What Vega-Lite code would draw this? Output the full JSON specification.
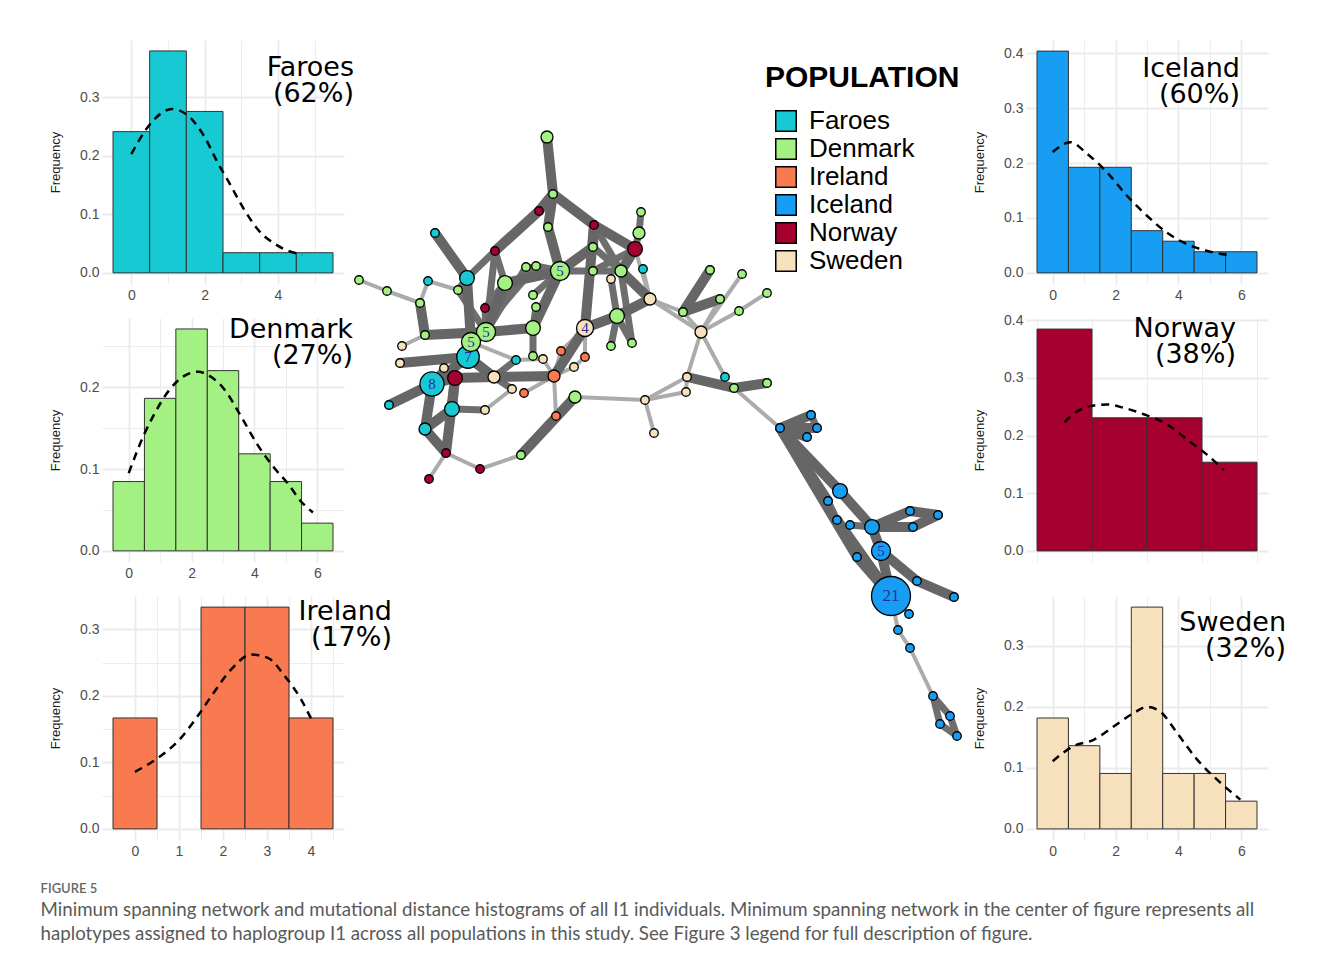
{
"$schema": "https://vega.github.io/schema/vega-lite/v6.json",
"padding": {"left": 40, "top": 40, "right": 5, "bottom": 5},
"background": "white",
"datasets": {
"nodes": [
{"id":"c15","pop":"Iceland","n":21,"x":893,"y":596},
{"id":"a43","pop":"Faroes","n":8,"x":434,"y":384},
{"id":"a34","pop":"Faroes","n":7,"x":470,"y":357},
{"id":"a32","pop":"Denmark","n":5,"x":488,"y":332},
{"id":"a33","pop":"Denmark","n":5,"x":473,"y":342},
{"id":"a12","pop":"Denmark","n":5,"x":562,"y":271},
{"id":"c13","pop":"Iceland","n":5,"x":883,"y":551},
{"id":"a36","pop":"Sweden","n":4,"x":587,"y":328},
{"id":"a1","pop":"Denmark","n":2,"x":549,"y":137},
{"id":"a2","pop":"Denmark","n":1,"x":555,"y":194},
{"id":"a3","pop":"Norway","n":1,"x":541,"y":211},
{"id":"a4","pop":"Denmark","n":1,"x":550,"y":227},
{"id":"a5","pop":"Norway","n":1,"x":596,"y":225},
{"id":"a6","pop":"Denmark","n":1,"x":643,"y":212},
{"id":"a7","pop":"Denmark","n":2,"x":641,"y":233},
{"id":"a8","pop":"Norway","n":3,"x":637,"y":249},
{"id":"a9","pop":"Faroes","n":1,"x":645,"y":269},
{"id":"a10","pop":"Denmark","n":1,"x":595,"y":247},
{"id":"a11","pop":"Denmark","n":1,"x":595,"y":271},
{"id":"a14","pop":"Denmark","n":1,"x":528,"y":267},
{"id":"a15","pop":"Denmark","n":1,"x":538,"y":266},
{"id":"a16","pop":"Denmark","n":2,"x":623,"y":271},
{"id":"a17","pop":"Sweden","n":1,"x":613,"y":279},
{"id":"a18","pop":"Sweden","n":2,"x":652,"y":299},
{"id":"a19","pop":"Faroes","n":1,"x":437,"y":233},
{"id":"a20","pop":"Norway","n":1,"x":497,"y":251},
{"id":"a21","pop":"Faroes","n":3,"x":469,"y":278},
{"id":"a22","pop":"Denmark","n":3,"x":507,"y":283},
{"id":"a23","pop":"Faroes","n":1,"x":430,"y":281},
{"id":"a24","pop":"Denmark","n":1,"x":460,"y":290},
{"id":"a25","pop":"Denmark","n":1,"x":361,"y":280},
{"id":"a26","pop":"Denmark","n":1,"x":389,"y":291},
{"id":"a27","pop":"Denmark","n":1,"x":422,"y":303},
{"id":"a28","pop":"Denmark","n":1,"x":535,"y":295},
{"id":"a29","pop":"Denmark","n":1,"x":538,"y":307},
{"id":"a30","pop":"Norway","n":1,"x":487,"y":308},
{"id":"a31","pop":"Denmark","n":1,"x":427,"y":335},
{"id":"a35","pop":"Denmark","n":3,"x":535,"y":328},
{"id":"a37","pop":"Denmark","n":3,"x":619,"y":316},
{"id":"a38","pop":"Denmark","n":1,"x":613,"y":346},
{"id":"a39","pop":"Denmark","n":1,"x":634,"y":343},
{"id":"a40","pop":"Sweden","n":1,"x":404,"y":346},
{"id":"a41","pop":"Sweden","n":1,"x":402,"y":363},
{"id":"a42","pop":"Sweden","n":1,"x":446,"y":368},
{"id":"a44","pop":"Norway","n":3,"x":457,"y":378},
{"id":"a45","pop":"Sweden","n":2,"x":496,"y":377},
{"id":"a46","pop":"Faroes","n":1,"x":518,"y":360},
{"id":"a47","pop":"Denmark","n":1,"x":535,"y":356},
{"id":"a48","pop":"Sweden","n":1,"x":545,"y":359},
{"id":"a49","pop":"Ireland","n":1,"x":563,"y":351},
{"id":"a50","pop":"Ireland","n":1,"x":587,"y":357},
{"id":"a51","pop":"Sweden","n":1,"x":576,"y":367},
{"id":"a52","pop":"Ireland","n":2,"x":556,"y":376},
{"id":"a53","pop":"Sweden","n":1,"x":514,"y":389},
{"id":"a54","pop":"Ireland","n":1,"x":526,"y":393},
{"id":"a55","pop":"Denmark","n":2,"x":577,"y":397},
{"id":"a56","pop":"Faroes","n":1,"x":391,"y":405},
{"id":"a57","pop":"Faroes","n":3,"x":454,"y":409},
{"id":"a58","pop":"Sweden","n":1,"x":487,"y":410},
{"id":"a59","pop":"Faroes","n":2,"x":427,"y":429},
{"id":"a60","pop":"Ireland","n":1,"x":558,"y":416},
{"id":"a61","pop":"Sweden","n":1,"x":647,"y":400},
{"id":"a62","pop":"Sweden","n":1,"x":656,"y":433},
{"id":"a63","pop":"Norway","n":1,"x":448,"y":453},
{"id":"a64","pop":"Denmark","n":1,"x":523,"y":455},
{"id":"a65","pop":"Norway","n":1,"x":482,"y":469},
{"id":"a66","pop":"Norway","n":1,"x":431,"y":479},
{"id":"b1","pop":"Denmark","n":1,"x":712,"y":270},
{"id":"b2","pop":"Denmark","n":1,"x":744,"y":274},
{"id":"b3","pop":"Denmark","n":1,"x":769,"y":293},
{"id":"b4","pop":"Denmark","n":1,"x":722,"y":299},
{"id":"b5","pop":"Denmark","n":1,"x":741,"y":311},
{"id":"b6","pop":"Denmark","n":1,"x":685,"y":312},
{"id":"b7","pop":"Sweden","n":2,"x":703,"y":332},
{"id":"b8","pop":"Sweden","n":1,"x":689,"y":377},
{"id":"b9","pop":"Sweden","n":1,"x":688,"y":392},
{"id":"b10","pop":"Faroes","n":1,"x":727,"y":377},
{"id":"b11","pop":"Denmark","n":1,"x":736,"y":388},
{"id":"b12","pop":"Denmark","n":1,"x":769,"y":383},
{"id":"c1","pop":"Iceland","n":1,"x":782,"y":428},
{"id":"c2","pop":"Iceland","n":1,"x":813,"y":415},
{"id":"c3","pop":"Iceland","n":1,"x":819,"y":428},
{"id":"c4","pop":"Iceland","n":1,"x":809,"y":437},
{"id":"c5","pop":"Iceland","n":3,"x":842,"y":491},
{"id":"c6","pop":"Iceland","n":1,"x":830,"y":501},
{"id":"c7","pop":"Iceland","n":1,"x":839,"y":520},
{"id":"c8","pop":"Iceland","n":1,"x":852,"y":525},
{"id":"c9","pop":"Iceland","n":3,"x":874,"y":527},
{"id":"c10","pop":"Iceland","n":1,"x":912,"y":511},
{"id":"c11","pop":"Iceland","n":1,"x":940,"y":515},
{"id":"c12","pop":"Iceland","n":1,"x":915,"y":527},
{"id":"c14","pop":"Iceland","n":1,"x":859,"y":557},
{"id":"c16","pop":"Iceland","n":1,"x":919,"y":581},
{"id":"c17","pop":"Iceland","n":1,"x":956,"y":597},
{"id":"c18","pop":"Iceland","n":1,"x":911,"y":614},
{"id":"c19","pop":"Iceland","n":1,"x":900,"y":630},
{"id":"c20","pop":"Iceland","n":1,"x":912,"y":648},
{"id":"c21","pop":"Iceland","n":1,"x":935,"y":696},
{"id":"c22","pop":"Iceland","n":1,"x":952,"y":716},
{"id":"c23","pop":"Iceland","n":1,"x":942,"y":724},
{"id":"c24","pop":"Iceland","n":1,"x":959,"y":736}
],
"edges": [
{"s":"a8","t":"a18","k":1},{"s":"a9","t":"a18","k":1},{"s":"a26","t":"a27","k":1},{"s":"a25","t":"a26","k":1},
{"s":"a23","t":"a24","k":1},{"s":"a40","t":"a31","k":1},{"s":"a63","t":"a65","k":1},{"s":"a63","t":"a66","k":1},
{"s":"a65","t":"a64","k":1},{"s":"a55","t":"a60","k":1},{"s":"a55","t":"a61","k":1},{"s":"a52","t":"a49","k":1},
{"s":"a52","t":"a51","k":1},{"s":"a52","t":"a54","k":1},{"s":"a52","t":"a60","k":1},{"s":"a58","t":"a53","k":1},
{"s":"a47","t":"a48","k":1},{"s":"a48","t":"a52","k":1},{"s":"a49","t":"a36","k":1},{"s":"a50","t":"a51","k":1},
{"s":"a36","t":"a50","k":1},{"s":"a33","t":"a46","k":1},{"s":"a46","t":"a48","k":1},{"s":"a23","t":"a27","k":1},
{"s":"a18","t":"b7","k":1},{"s":"a18","t":"b6","k":1},{"s":"b6","t":"b7","k":1},{"s":"b7","t":"b4","k":1},
{"s":"b7","t":"b2","k":1},{"s":"b7","t":"b5","k":1},{"s":"b5","t":"b3","k":1},{"s":"b7","t":"b8","k":1},
{"s":"b7","t":"b10","k":1},{"s":"b8","t":"b9","k":1},{"s":"b8","t":"a61","k":1},{"s":"b9","t":"a61","k":1},
{"s":"a61","t":"a62","k":1},{"s":"b11","t":"c1","k":1},{"s":"c15","t":"c18","k":1},{"s":"c15","t":"c19","k":1},
{"s":"c19","t":"c20","k":1},{"s":"c20","t":"c21","k":1},
{"s":"a20","t":"a21","k":2},{"s":"a21","t":"a24","k":2},{"s":"a20","t":"a32","k":2},{"s":"a12","t":"a14","k":2},
{"s":"a12","t":"a15","k":2},{"s":"a12","t":"a11","k":2},{"s":"a10","t":"a16","k":2},{"s":"a11","t":"a16","k":2},
{"s":"a8","t":"a7","k":2},{"s":"a7","t":"a6","k":2},{"s":"a17","t":"a37","k":2},{"s":"a37","t":"a38","k":2},
{"s":"a37","t":"a39","k":2},{"s":"a16","t":"a39","k":2},{"s":"a35","t":"a47","k":2},{"s":"a15","t":"a33","k":2},
{"s":"a14","t":"a32","k":2},{"s":"a30","t":"a32","k":2},{"s":"a30","t":"a22","k":2},{"s":"a24","t":"a32","k":2},
{"s":"a42","t":"a43","k":2},{"s":"a57","t":"a58","k":2},{"s":"a45","t":"a46","k":2},{"s":"a53","t":"a45","k":2},
{"s":"a22","t":"a20","k":2},{"s":"a8","t":"a11","k":2},{"s":"a5","t":"a16","k":2},{"s":"a28","t":"a12","k":2},
{"s":"a29","t":"a35","k":2},{"s":"c2","t":"c3","k":2},{"s":"c6","t":"c7","k":2},{"s":"c8","t":"c9","k":2},
{"s":"c21","t":"c22","k":2},{"s":"c21","t":"c23","k":2},{"s":"c22","t":"c24","k":2},{"s":"c23","t":"c24","k":2},
{"s":"a1","t":"a2","k":3},{"s":"a2","t":"a3","k":3},{"s":"a2","t":"a4","k":3},{"s":"a2","t":"a5","k":3},
{"s":"a5","t":"a8","k":3},{"s":"a3","t":"a20","k":3},{"s":"a19","t":"a21","k":3},{"s":"a21","t":"a33","k":3},
{"s":"a22","t":"a32","k":3},{"s":"a22","t":"a12","k":3},{"s":"a12","t":"a10","k":3},{"s":"a12","t":"a35","k":3},
{"s":"a12","t":"a4","k":3},{"s":"a10","t":"a5","k":3},{"s":"a16","t":"a8","k":3},{"s":"a16","t":"a18","k":3},
{"s":"a18","t":"a37","k":3},{"s":"a37","t":"a36","k":3},{"s":"a36","t":"a5","k":3},{"s":"a36","t":"a52","k":3},
{"s":"a35","t":"a32","k":3},{"s":"a32","t":"a33","k":3},{"s":"a33","t":"a34","k":3},{"s":"a27","t":"a31","k":3},
{"s":"a31","t":"a32","k":3},{"s":"a34","t":"a41","k":3},{"s":"a34","t":"a43","k":3},{"s":"a34","t":"a45","k":3},
{"s":"a43","t":"a56","k":3},{"s":"a43","t":"a59","k":3},{"s":"a43","t":"a44","k":3},{"s":"a44","t":"a57","k":3},
{"s":"a44","t":"a63","k":3},{"s":"a57","t":"a59","k":3},{"s":"a59","t":"a63","k":3},{"s":"a64","t":"a55","k":3},
{"s":"a45","t":"a52","k":3},{"s":"a44","t":"a45","k":3},{"s":"b6","t":"b1","k":3},{"s":"b6","t":"b4","k":3},
{"s":"b8","t":"b11","k":3},{"s":"b11","t":"b12","k":3},{"s":"c1","t":"c2","k":3},{"s":"c1","t":"c3","k":3},
{"s":"c1","t":"c4","k":3},{"s":"c1","t":"c5","k":3},{"s":"c5","t":"c9","k":3},{"s":"c1","t":"c14","k":3},
{"s":"c1","t":"c6","k":3},{"s":"c7","t":"c15","k":3},{"s":"c14","t":"c15","k":3},{"s":"c9","t":"c10","k":3},
{"s":"c9","t":"c12","k":3},{"s":"c10","t":"c11","k":3},{"s":"c12","t":"c11","k":3},{"s":"c9","t":"c13","k":3},
{"s":"c13","t":"c15","k":3},{"s":"c13","t":"c16","k":3},{"s":"c16","t":"c17","k":3}
]
},
"title": {
"text": "FIGURE 5",
"subtitle": ["Minimum spanning network and mutational distance histograms of all I1 individuals. Minimum spanning network in the center of figure represents all", "haplotypes assigned to haplogroup I1 across all populations in this study. See Figure 3 legend for full description of figure."],
"orient": "bottom", "anchor": "start", "frame": "bounds", "offset": 25, "dx": -9,
"font": "Lato", "fontSize": 13, "fontWeight": 600, "color": "#666666", "lineHeight": 14,
"subtitleFont": "Lato", "subtitleFontSize": 18.7, "subtitleColor": "#595959", "subtitleLineHeight": 24, "subtitlePadding": 5
},
"columns": 3,
"spacing": {"row": 34, "column": 0},
"bounds": "flush",
"concat": [
{
"width": 242, "height": 244,
"layer": [
{"data": {"values": [{"x":-0.5,"x2":0.5,"f":0.2414},{"x":0.5,"x2":1.5,"f":0.3793},{"x":1.5,"x2":2.5,"f":0.2759},{"x":2.5,"x2":3.5,"f":0.0345},{"x":3.5,"x2":4.5,"f":0.0345},{"x":4.5,"x2":5.5,"f":0.0345}]},
"mark": {"type": "rect", "fill": "#17C9D3", "stroke": "#333333", "strokeWidth": 1},
"encoding": {
"x": {"field": "x", "type": "quantitative", "scale": {"domain": [-0.8, 5.8], "nice": false, "zero": false},
"axis": {"title": null, "labelOverlap": false, "values": [0,1,2,3,4,5], "labelExpr": "datum.value % 2 === 0 ? datum.label : ''", "gridWidth": {"condition": {"test": "datum.value % 2 === 0", "value": 1.8}, "value": 0.9}}},
"y": {"field": "f", "type": "quantitative", "scale": {"domain": [-0.019, 0.398], "nice": false, "zero": false},
"axis": {"title": "Frequency", "labelOverlap": false, "values": [0,0.05,0.1,0.15,0.2,0.25,0.3,0.35], "format": ".1f", "labelExpr": "round(datum.value*100) % 10 === 0 ? datum.label : ''", "gridWidth": {"condition": {"test": "round(datum.value*100) % 10 === 0", "value": 1.8}, "value": 0.9}}},
"x2": {"field": "x2"}, "y2": {"datum": 0}}},
{"data": {"values": [{"x":0,"f":0.203},{"x":0.4,"f":0.245},{"x":0.8,"f":0.272},{"x":1.1,"f":0.28},{"x":1.5,"f":0.271},{"x":2.0,"f":0.232},{"x":2.35,"f":0.189},{"x":2.66,"f":0.155},{"x":3.07,"f":0.109},{"x":3.44,"f":0.075},{"x":3.98,"f":0.047},{"x":4.66,"f":0.031}]},
"mark": {"type": "line", "stroke": "black", "strokeWidth": 2.5, "strokeDash": [8, 6], "interpolate": "monotone"},
"encoding": {"x": {"field": "x", "type": "quantitative", "scale": {"domain": [-0.8, 5.8], "nice": false, "zero": false}}, "y": {"field": "f", "type": "quantitative", "scale": {"domain": [-0.019, 0.398], "nice": false, "zero": false}}}},
{"data": {"values": [{"label": "Faroes"}]},
"mark": {"type": "text", "text": ["Faroes", "(62%)"], "font": "DejaVu Sans", "fontSize": 27, "lineHeight": 26, "align": "right", "baseline": "top", "fill": "black", "dx": 10, "dy": 15},
"encoding": {"x": {"datum": 5.8, "type": "quantitative", "scale": {"domain": [-0.8, 5.8], "nice": false, "zero": false}}, "y": {"datum": 0.398, "type": "quantitative", "scale": {"domain": [-0.019, 0.398], "nice": false, "zero": false}}}}
]
},
{
"width": 682, "height": 244,
"layer": [
{"data": {"name": "edges"},
"transform": [
{"lookup": "s", "from": {"data": {"name": "nodes"}, "key": "id", "fields": ["x", "y"]}, "as": ["sx", "sy"]},
{"lookup": "t", "from": {"data": {"name": "nodes"}, "key": "id", "fields": ["x", "y"]}, "as": ["tx", "ty"]},
{"filter": "datum.k == 1"}],
"mark": {"type": "rule", "strokeCap": "round"},
"encoding": {
"x": {"field": "sx", "type": "quantitative", "scale": {"domain": [346, 1028], "nice": false, "zero": false}, "axis": null},
"y": {"field": "sy", "type": "quantitative", "scale": {"domain": [40, 284], "nice": false, "zero": false, "reverse": true}, "axis": null},
"x2": {"field": "tx"}, "y2": {"field": "ty"},
"stroke": {"field": "k", "type": "ordinal", "scale": {"domain": [1, 2, 3], "range": ["#ababab", "#6e6e6e", "#666666"]}, "legend": null},
"strokeWidth": {"field": "k", "type": "quantitative", "scale": {"domain": [1, 3], "range": [4, 10]}, "legend": null}}},
{"data": {"name": "edges"},
"transform": [
{"lookup": "s", "from": {"data": {"name": "nodes"}, "key": "id", "fields": ["x", "y"]}, "as": ["sx", "sy"]},
{"lookup": "t", "from": {"data": {"name": "nodes"}, "key": "id", "fields": ["x", "y"]}, "as": ["tx", "ty"]},
{"filter": "datum.k > 1"}],
"mark": {"type": "rule", "strokeCap": "round"},
"encoding": {
"x": {"field": "sx", "type": "quantitative", "scale": {"domain": [346, 1028], "nice": false, "zero": false}, "axis": null},
"y": {"field": "sy", "type": "quantitative", "scale": {"domain": [40, 284], "nice": false, "zero": false, "reverse": true}, "axis": null},
"x2": {"field": "tx"}, "y2": {"field": "ty"},
"stroke": {"field": "k", "type": "ordinal", "scale": {"domain": [1, 2, 3], "range": ["#ababab", "#6e6e6e", "#666666"]}, "legend": null},
"strokeWidth": {"field": "k", "type": "quantitative", "scale": {"domain": [1, 3], "range": [4, 10]}, "legend": null}}},
{"data": {"name": "nodes"},
"mark": {"type": "circle", "stroke": "black", "strokeWidth": 1.3, "opacity": 1},
"encoding": {
"x": {"field": "x", "type": "quantitative", "scale": {"domain": [346, 1028], "nice": false, "zero": false}, "axis": null},
"y": {"field": "y", "type": "quantitative", "scale": {"domain": [40, 284], "nice": false, "zero": false, "reverse": true}, "axis": null},
"color": {"field": "pop", "type": "nominal",
"scale": {"domain": ["Faroes", "Denmark", "Ireland", "Iceland", "Norway", "Sweden"], "range": ["#17C9D3", "#A4F183", "#F97A50", "#179DF2", "#A60030", "#F6E1BC"]},
"legend": {"orient": "none", "legendX": 663, "legendY": 23, "title": "POPULATION", "titleFont": "Liberation Sans", "titleFontSize": 30, "titleFontWeight": "bold", "titleColor": "black", "titlePadding": 15, "titleLimit": 400,
"labelFont": "Liberation Sans", "labelFontSize": 26, "labelColor": "black", "labelOffset": 10, "labelLimit": 400,
"symbolType": "square", "symbolSize": 420, "symbolStrokeColor": "black", "symbolStrokeWidth": 1.5, "symbolOffset": 8, "symbolOpacity": 1, "rowPadding": 0, "padding": 0}},
"size": {"field": "n", "type": "quantitative", "scale": {"domain": [0, 21], "range": [0, 1520]}, "legend": null}}},
{"data": {"name": "nodes"},
"transform": [{"filter": "datum.n >= 4"}],
"mark": {"type": "text", "font": "Liberation Serif", "fill": "#2a2aa8", "align": "center", "baseline": "middle"},
"encoding": {
"x": {"field": "x", "type": "quantitative", "scale": {"domain": [346, 1028], "nice": false, "zero": false}, "axis": null},
"y": {"field": "y", "type": "quantitative", "scale": {"domain": [40, 284], "nice": false, "zero": false, "reverse": true}, "axis": null},
"text": {"field": "n", "type": "quantitative"},
"size": {"condition": {"test": "datum.n > 10", "value": 17}, "value": 15}}}
]
},
{
"width": 242, "height": 244,
"layer": [
{"data": {"values": [{"x":-0.5,"x2":0.5,"f":0.4038},{"x":0.5,"x2":1.5,"f":0.1923},{"x":1.5,"x2":2.5,"f":0.1923},{"x":2.5,"x2":3.5,"f":0.0769},{"x":3.5,"x2":4.5,"f":0.0577},{"x":4.5,"x2":5.5,"f":0.0385},{"x":5.5,"x2":6.5,"f":0.0385}]},
"mark": {"type": "rect", "fill": "#179DF2", "stroke": "#333333", "strokeWidth": 1},
"encoding": {
"x": {"field": "x", "type": "quantitative", "scale": {"domain": [-0.85, 6.85], "nice": false, "zero": false},
"axis": {"title": null, "labelOverlap": false, "values": [0,1,2,3,4,5,6], "labelExpr": "datum.value % 2 === 0 ? datum.label : ''", "gridWidth": {"condition": {"test": "datum.value % 2 === 0", "value": 1.8}, "value": 0.9}}},
"y": {"field": "f", "type": "quantitative", "scale": {"domain": [-0.0202, 0.424], "nice": false, "zero": false},
"axis": {"title": "Frequency", "labelOverlap": false, "values": [0,0.05,0.1,0.15,0.2,0.25,0.3,0.35,0.4], "format": ".1f", "labelExpr": "round(datum.value*100) % 10 === 0 ? datum.label : ''", "gridWidth": {"condition": {"test": "round(datum.value*100) % 10 === 0", "value": 1.8}, "value": 0.9}}},
"x2": {"field": "x2"}, "y2": {"datum": 0}}},
{"data": {"values": [{"x":0,"f":0.22},{"x":0.56,"f":0.238},{"x":1.09,"f":0.217},{"x":1.73,"f":0.183},{"x":2.37,"f":0.14},{"x":3.0,"f":0.104},{"x":3.64,"f":0.073},{"x":4.28,"f":0.052},{"x":4.92,"f":0.04},{"x":5.66,"f":0.032}]},
"mark": {"type": "line", "stroke": "black", "strokeWidth": 2.5, "strokeDash": [8, 6], "interpolate": "monotone"},
"encoding": {"x": {"field": "x", "type": "quantitative", "scale": {"domain": [-0.85, 6.85], "nice": false, "zero": false}}, "y": {"field": "f", "type": "quantitative", "scale": {"domain": [-0.0202, 0.424], "nice": false, "zero": false}}}},
{"data": {"values": [{"label": "Iceland"}]},
"mark": {"type": "text", "text": ["Iceland", "(60%)"], "font": "DejaVu Sans", "fontSize": 27, "lineHeight": 26, "align": "right", "baseline": "top", "fill": "black", "dx": -28, "dy": 16},
"encoding": {"x": {"datum": 6.85, "type": "quantitative", "scale": {"domain": [-0.85, 6.85], "nice": false, "zero": false}}, "y": {"datum": 0.424, "type": "quantitative", "scale": {"domain": [-0.0202, 0.424], "nice": false, "zero": false}}}}
]
},
{
"width": 242, "height": 244,
"layer": [
{"data": {"values": [{"x":-0.5,"x2":0.5,"f":0.0847},{"x":0.5,"x2":1.5,"f":0.1864},{"x":1.5,"x2":2.5,"f":0.2712},{"x":2.5,"x2":3.5,"f":0.2203},{"x":3.5,"x2":4.5,"f":0.1186},{"x":4.5,"x2":5.5,"f":0.0847},{"x":5.5,"x2":6.5,"f":0.0339}]},
"mark": {"type": "rect", "fill": "#A4F183", "stroke": "#333333", "strokeWidth": 1},
"encoding": {
"x": {"field": "x", "type": "quantitative", "scale": {"domain": [-0.85, 6.85], "nice": false, "zero": false},
"axis": {"title": null, "labelOverlap": false, "values": [0,1,2,3,4,5,6], "labelExpr": "datum.value % 2 === 0 ? datum.label : ''", "gridWidth": {"condition": {"test": "datum.value % 2 === 0", "value": 1.8}, "value": 0.9}}},
"y": {"field": "f", "type": "quantitative", "scale": {"domain": [-0.0136, 0.2846], "nice": false, "zero": false},
"axis": {"title": "Frequency", "labelOverlap": false, "values": [0,0.05,0.1,0.15,0.2,0.25], "format": ".1f", "labelExpr": "round(datum.value*100) % 10 === 0 ? datum.label : ''", "gridWidth": {"condition": {"test": "round(datum.value*100) % 10 === 0", "value": 1.8}, "value": 0.9}}},
"x2": {"field": "x2"}, "y2": {"datum": 0}}},
{"data": {"values": [{"x":0,"f":0.095},{"x":0.51,"f":0.144},{"x":0.77,"f":0.164},{"x":1.3,"f":0.197},{"x":1.73,"f":0.213},{"x":2.21,"f":0.219},{"x":2.52,"f":0.215},{"x":3.05,"f":0.197},{"x":3.58,"f":0.164},{"x":4.11,"f":0.129},{"x":4.64,"f":0.101},{"x":5.07,"f":0.082},{"x":5.49,"f":0.06},{"x":5.86,"f":0.047}]},
"mark": {"type": "line", "stroke": "black", "strokeWidth": 2.5, "strokeDash": [8, 6], "interpolate": "monotone"},
"encoding": {"x": {"field": "x", "type": "quantitative", "scale": {"domain": [-0.85, 6.85], "nice": false, "zero": false}}, "y": {"field": "f", "type": "quantitative", "scale": {"domain": [-0.0136, 0.2846], "nice": false, "zero": false}}}},
{"data": {"values": [{"label": "Denmark"}]},
"mark": {"type": "text", "text": ["Denmark", "(27%)"], "font": "DejaVu Sans", "fontSize": 27, "lineHeight": 26, "align": "right", "baseline": "top", "fill": "black", "dx": 9, "dy": -1},
"encoding": {"x": {"datum": 6.85, "type": "quantitative", "scale": {"domain": [-0.85, 6.85], "nice": false, "zero": false}}, "y": {"datum": 0.2846, "type": "quantitative", "scale": {"domain": [-0.0136, 0.2846], "nice": false, "zero": false}}}}
]
},
{"width": 10, "height": 244, "data": {"values": []}, "mark": "point"},
{
"width": 242, "height": 244,
"layer": [
{"data": {"values": [{"x":0.5,"x2":1.5,"f":0.3846},{"x":1.5,"x2":2.5,"f":0.2308},{"x":2.5,"x2":3.5,"f":0.2308},{"x":3.5,"x2":4.5,"f":0.1538}]},
"mark": {"type": "rect", "fill": "#A60030", "stroke": "#333333", "strokeWidth": 1},
"encoding": {
"x": {"field": "x", "type": "quantitative", "scale": {"domain": [0.3, 4.7], "nice": false, "zero": false},
"axis": {"title": null, "labelOverlap": false, "values": [0.5,1,1.5,2,2.5,3,3.5,4,4.5], "labelExpr": "datum.value % 1 === 0 ? format(datum.value, 'd') : ''", "gridWidth": {"condition": {"test": "datum.value % 1 === 0", "value": 1.8}, "value": 0.9}}},
"y": {"field": "f", "type": "quantitative", "scale": {"domain": [-0.0192, 0.4038], "nice": false, "zero": false},
"axis": {"title": "Frequency", "labelOverlap": false, "values": [0,0.05,0.1,0.15,0.2,0.25,0.3,0.35,0.4], "format": ".1f", "labelExpr": "round(datum.value*100) % 10 === 0 ? datum.label : ''", "gridWidth": {"condition": {"test": "round(datum.value*100) % 10 === 0", "value": 1.8}, "value": 0.9}}},
"x2": {"field": "x2"}, "y2": {"datum": 0}}},
{"data": {"values": [{"x":1,"f":0.223},{"x":1.23,"f":0.242},{"x":1.47,"f":0.251},{"x":1.78,"f":0.254},{"x":2.08,"f":0.248},{"x":2.44,"f":0.237},{"x":2.87,"f":0.219},{"x":3.23,"f":0.193},{"x":3.59,"f":0.167},{"x":3.9,"f":0.14}]},
"mark": {"type": "line", "stroke": "black", "strokeWidth": 2.5, "strokeDash": [8, 6], "interpolate": "monotone"},
"encoding": {"x": {"field": "x", "type": "quantitative", "scale": {"domain": [0.3, 4.7], "nice": false, "zero": false}}, "y": {"field": "f", "type": "quantitative", "scale": {"domain": [-0.0192, 0.4038], "nice": false, "zero": false}}}},
{"data": {"values": [{"label": "Norway"}]},
"mark": {"type": "text", "text": ["Norway", "(38%)"], "font": "DejaVu Sans", "fontSize": 27, "lineHeight": 26, "align": "right", "baseline": "top", "fill": "black", "dx": -32, "dy": -2},
"encoding": {"x": {"datum": 4.7, "type": "quantitative", "scale": {"domain": [0.3, 4.7], "nice": false, "zero": false}}, "y": {"datum": 0.4038, "type": "quantitative", "scale": {"domain": [-0.0192, 0.4038], "nice": false, "zero": false}}}}
]
},
{
"width": 242, "height": 244,
"layer": [
{"data": {"values": [{"x":-0.5,"x2":0.5,"f":0.1667},{"x":1.5,"x2":2.5,"f":0.3333},{"x":2.5,"x2":3.5,"f":0.3333},{"x":3.5,"x2":4.5,"f":0.1667}]},
"mark": {"type": "rect", "fill": "#F97A50", "stroke": "#333333", "strokeWidth": 1},
"encoding": {
"x": {"field": "x", "type": "quantitative", "scale": {"domain": [-0.75, 4.75], "nice": false, "zero": false},
"axis": {"title": null, "labelOverlap": false, "values": [0,0.5,1,1.5,2,2.5,3,3.5,4,4.5], "labelExpr": "datum.value % 1 === 0 ? format(datum.value, 'd') : ''", "gridWidth": {"condition": {"test": "datum.value % 1 === 0", "value": 1.8}, "value": 0.9}}},
"y": {"field": "f", "type": "quantitative", "scale": {"domain": [-0.0167, 0.35], "nice": false, "zero": false},
"axis": {"title": "Frequency", "labelOverlap": false, "values": [0,0.05,0.1,0.15,0.2,0.25,0.3], "format": ".1f", "labelExpr": "round(datum.value*100) % 10 === 0 ? datum.label : ''", "gridWidth": {"condition": {"test": "round(datum.value*100) % 10 === 0", "value": 1.8}, "value": 0.9}}},
"x2": {"field": "x2"}, "y2": {"datum": 0}}},
{"data": {"values": [{"x":0,"f":0.0858},{"x":0.53,"f":0.107},{"x":0.98,"f":0.132},{"x":1.43,"f":0.17},{"x":1.74,"f":0.2},{"x":2.19,"f":0.24},{"x":2.64,"f":0.262},{"x":3.02,"f":0.257},{"x":3.4,"f":0.23},{"x":3.77,"f":0.195},{"x":4.0,"f":0.166}]},
"mark": {"type": "line", "stroke": "black", "strokeWidth": 2.5, "strokeDash": [8, 6], "interpolate": "monotone"},
"encoding": {
"x": {"field": "x", "type": "quantitative", "scale": {"domain": [-0.75, 4.75], "nice": false, "zero": false},
"axis": {"title": null, "labelOverlap": false, "values": [0,0.5,1,1.5,2,2.5,3,3.5,4,4.5], "labelExpr": "datum.value % 1 === 0 ? format(datum.value, 'd') : ''", "gridWidth": {"condition": {"test": "datum.value % 1 === 0", "value": 1.8}, "value": 0.9}}},
"y": {"field": "f", "type": "quantitative", "scale": {"domain": [-0.0167, 0.35], "nice": false, "zero": false},
"axis": {"title": "Frequency", "labelOverlap": false, "values": [0,0.05,0.1,0.15,0.2,0.25,0.3], "format": ".1f", "labelExpr": "round(datum.value*100) % 10 === 0 ? datum.label : ''", "gridWidth": {"condition": {"test": "round(datum.value*100) % 10 === 0", "value": 1.8}, "value": 0.9}}}}},
{"data": {"values": [{"label": "Ireland"}]},
"mark": {"type": "text", "text": ["Ireland", "(17%)"], "font": "DejaVu Sans", "fontSize": 27, "lineHeight": 26, "align": "right", "baseline": "top", "fill": "black", "dx": 48, "dy": 3},
"encoding": {
"x": {"datum": 4.75, "type": "quantitative", "scale": {"domain": [-0.75, 4.75], "nice": false, "zero": false},
"axis": {"title": null, "labelOverlap": false, "values": [0,0.5,1,1.5,2,2.5,3,3.5,4,4.5], "labelExpr": "datum.value % 1 === 0 ? format(datum.value, 'd') : ''", "gridWidth": {"condition": {"test": "datum.value % 1 === 0", "value": 1.8}, "value": 0.9}}},
"y": {"datum": 0.35, "type": "quantitative", "scale": {"domain": [-0.0167, 0.35], "nice": false, "zero": false},
"axis": {"title": "Frequency", "labelOverlap": false, "values": [0,0.05,0.1,0.15,0.2,0.25,0.3], "format": ".1f", "labelExpr": "round(datum.value*100) % 10 === 0 ? datum.label : ''", "gridWidth": {"condition": {"test": "round(datum.value*100) % 10 === 0", "value": 1.8}, "value": 0.9}}}}}
]
},
{"width": 10, "height": 244, "data": {"values": []}, "mark": "point"},
{
"width": 242, "height": 244,
"layer": [
{"data": {"values": [{"x":-0.5,"x2":0.5,"f":0.1818},{"x":0.5,"x2":1.5,"f":0.1364},{"x":1.5,"x2":2.5,"f":0.0909},{"x":2.5,"x2":3.5,"f":0.3636},{"x":3.5,"x2":4.5,"f":0.0909},{"x":4.5,"x2":5.5,"f":0.0909},{"x":5.5,"x2":6.5,"f":0.0455}]},
"mark": {"type": "rect", "fill": "#F6E1BC", "stroke": "#333333", "strokeWidth": 1},
"encoding": {
"x": {"field": "x", "type": "quantitative", "scale": {"domain": [-0.85, 6.85], "nice": false, "zero": false},
"axis": {"title": null, "labelOverlap": false, "values": [0,1,2,3,4,5,6], "labelExpr": "datum.value % 2 === 0 ? datum.label : ''", "gridWidth": {"condition": {"test": "datum.value % 2 === 0", "value": 1.8}, "value": 0.9}}},
"y": {"field": "f", "type": "quantitative", "scale": {"domain": [-0.0182, 0.3818], "nice": false, "zero": false},
"axis": {"title": "Frequency", "labelOverlap": false, "values": [0,0.05,0.1,0.15,0.2,0.25,0.3,0.35], "format": ".1f", "labelExpr": "round(datum.value*100) % 10 === 0 ? datum.label : ''", "gridWidth": {"condition": {"test": "round(datum.value*100) % 10 === 0", "value": 1.8}, "value": 0.9}}},
"x2": {"field": "x2"}, "y2": {"datum": 0}}},
{"data": {"values": [{"x":0,"f":0.111},{"x":0.67,"f":0.136},{"x":1.3,"f":0.146},{"x":1.94,"f":0.168},{"x":2.58,"f":0.19},{"x":3.0,"f":0.2},{"x":3.43,"f":0.192},{"x":3.96,"f":0.157},{"x":4.59,"f":0.114},{"x":5.33,"f":0.076},{"x":5.97,"f":0.048}]},
"mark": {"type": "line", "stroke": "black", "strokeWidth": 2.5, "strokeDash": [8, 6], "interpolate": "monotone"},
"encoding": {"x": {"field": "x", "type": "quantitative", "scale": {"domain": [-0.85, 6.85], "nice": false, "zero": false}}, "y": {"field": "f", "type": "quantitative", "scale": {"domain": [-0.0182, 0.3818], "nice": false, "zero": false}}}},
{"data": {"values": [{"label": "Sweden"}]},
"mark": {"type": "text", "text": ["Sweden", "(32%)"], "font": "DejaVu Sans", "fontSize": 27, "lineHeight": 26, "align": "right", "baseline": "top", "fill": "black", "dx": 18, "dy": 14},
"encoding": {"x": {"datum": 6.85, "type": "quantitative", "scale": {"domain": [-0.85, 6.85], "nice": false, "zero": false}}, "y": {"datum": 0.3818, "type": "quantitative", "scale": {"domain": [-0.0182, 0.3818], "nice": false, "zero": false}}}}
]
}
],
"config": {
"view": {"stroke": null},
"axis": {"labelFont": "Liberation Sans", "labelFontSize": 14, "labelColor": "#4D4D4D", "ticks": false, "domain": false, "gridColor": "#EBEBEB", "titleFont": "Liberation Sans", "titleFontSize": 13, "titleFontWeight": "normal", "titleColor": "#1A1A1A", "labelPadding": 4, "labelOverlap": false, "labelBound": false, "labelFlush": false},
"axisY": {"titlePadding": 17, "labelPadding": 3}
}
}
